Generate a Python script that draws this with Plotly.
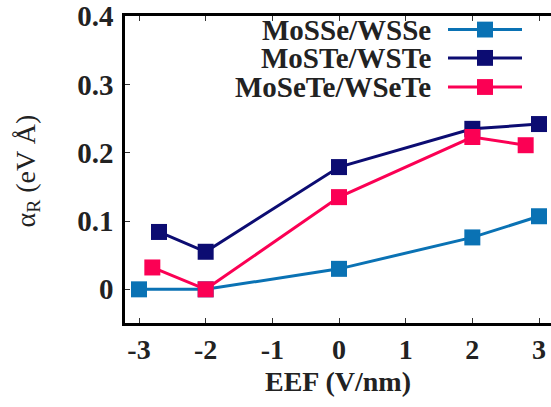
import plotly.graph_objects as go

# Electric field (V/nm) and Rashba coefficient alpha_R (eV Å) for each heterostructure
eef_mosse = [-3, -2, 0, 2, 3]
alpha_mosse = [0.0, 0.0, 0.030, 0.076, 0.107]

eef_moste = [-2.7, -2, 0, 2, 3]
alpha_moste = [0.084, 0.055, 0.179, 0.235, 0.242]

eef_mosete = [-2.8, -2, 0, 2, 2.8]
alpha_mosete = [0.032, 0.0, 0.135, 0.223, 0.211]

series_names = ["MoSSe/WSSe", "MoSTe/WSTe", "MoSeTe/WSeTe"]
series_colors = ["#0a72b4", "#0c0c72", "#fb0054"]

x_ticks = [-3, -2, -1, 0, 1, 2, 3]
y_ticks = [0, 0.1, 0.2, 0.3, 0.4]
y_tick_text = ["0", "0.1", "0.2", "0.3", "0.4"]

W, H = 551, 407
ML, MR, MT, MB = 125, 0, 13, 84
PW, PH = W - ML - MR, H - MT - MB

SERIF = "Liberation Serif"
INK = "#222222"
Y_RANGE = [-0.0493, 0.4002]

fig = go.Figure()
for xs, ys, name, col in zip(
    [eef_mosse, eef_moste, eef_mosete],
    [alpha_mosse, alpha_moste, alpha_mosete],
    series_names, series_colors,
):
    fig.add_trace(go.Scatter(
        x=xs, y=ys, name=name, mode="lines+markers",
        line=dict(color=col, width=3),
        marker=dict(symbol="square", size=16, color=col, line=dict(width=0)),
        showlegend=False, cliponaxis=False,
    ))

# Key drawn in the upper right, text to the left of each sample
def px_x(p):
    return (p - ML) / PW

def px_y(p):
    return (H - MB - p) / PH

row_y = [26.7, 55.3, 84.7]
for name, col, ry in zip(series_names, series_colors, row_y):
    fig.add_shape(type="line", xref="paper", yref="paper",
                  x0=px_x(448), x1=px_x(522), y0=px_y(ry), y1=px_y(ry),
                  line=dict(color=col, width=3))
    fig.add_shape(type="rect", xref="paper", yref="paper",
                  x0=px_x(485 - 8), x1=px_x(485 + 8),
                  y0=px_y(ry + 8), y1=px_y(ry - 8),
                  line=dict(width=0), fillcolor=col)
    fig.add_annotation(text="<b>%s</b>" % name, xref="paper", yref="paper",
                       x=px_x(433), y=px_y(ry), xanchor="right", yanchor="middle",
                       showarrow=False, font=dict(family=SERIF, size=29, color=INK))

# Y-axis title with subscript
fig.add_annotation(text="α<sub>R</sub> (eV Å)", xref="paper", yref="paper",
                   x=px_x(27), y=px_y(170), textangle=-90,
                   xanchor="center", yanchor="middle", showarrow=False,
                   font=dict(family=SERIF, size=28, color=INK))

tick_style = dict(ticks="inside", ticklen=5, tickwidth=1, tickcolor="#333",
                  showgrid=False, zeroline=False)

fig.update_layout(
    width=W, height=H,
    margin=dict(l=ML, r=MR, t=MT, b=MB),
    paper_bgcolor="white", plot_bgcolor="white",
    xaxis=dict(
        range=[-3.21, 3.18], tickvals=x_ticks,
        ticktext=["<b>%s</b>" % v for v in x_ticks],
        showline=True, linecolor="black", linewidth=2.5, mirror="ticks",
        tickfont=dict(family=SERIF, size=28, color=INK),
        ticklabeloverflow="allow",
        title=dict(text="<b>EEF (V/nm)</b>", standoff=8,
                   font=dict(family=SERIF, size=28, color=INK)),
        **tick_style,
    ),
    yaxis=dict(
        range=Y_RANGE, tickvals=y_ticks,
        ticktext=["<b>%s</b>" % t for t in y_tick_text],
        showline=True, linecolor="black", linewidth=2.5, mirror=False,
        tickfont=dict(family=SERIF, size=29, color=INK),
        ticklabeloverflow="allow", ticklabelstandoff=3,
        **tick_style,
    ),
    # right-hand tick marks only, no axis line
    yaxis2=dict(
        overlaying="y", side="right", range=Y_RANGE, tickvals=y_ticks,
        showticklabels=False, showline=False, **tick_style,
    ),
)

fig.write_html("out.html")
